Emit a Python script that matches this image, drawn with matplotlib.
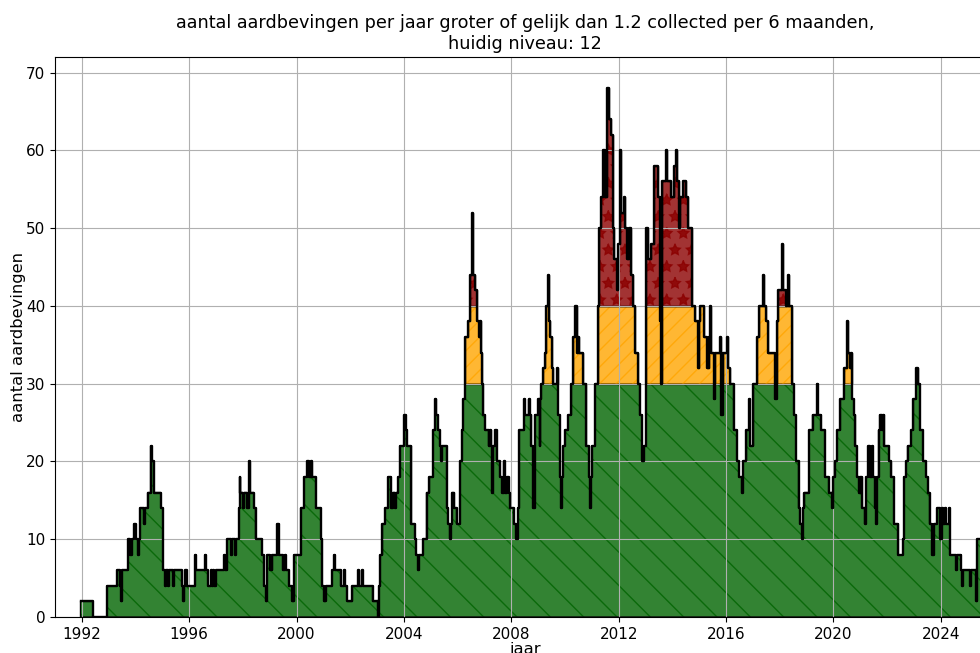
import matplotlib
matplotlib.use('Agg')
import matplotlib.pyplot as plt
import numpy as np

# aantal aardbevingen (per jaar, over 6 maanden)
jaar = [
    1991.95, 1992.42, 1992.93, 1993.30, 1993.42, 1993.46, 1993.50, 1993.71, 1993.80, 1993.85,
    1993.95, 1994.00, 1994.08, 1994.12, 1994.16, 1994.30, 1994.36, 1994.45, 1994.56, 1994.60,
    1994.70, 1994.95, 1995.02, 1995.10, 1995.13, 1995.20, 1995.24, 1995.40, 1995.43, 1995.72,
    1995.78, 1995.82, 1995.86, 1995.90, 1996.22, 1996.26, 1996.58, 1996.62, 1996.70, 1996.80,
    1996.84, 1996.90, 1996.94, 1997.00, 1997.30, 1997.34, 1997.42, 1997.55, 1997.59, 1997.70,
    1997.74, 1997.85, 1997.88, 1997.91, 1998.00, 1998.05, 1998.16, 1998.22, 1998.28, 1998.41,
    1998.47, 1998.72, 1998.78, 1998.86, 1998.90, 1999.02, 1999.10, 1999.28, 1999.34, 1999.48,
    1999.55, 1999.59, 1999.71, 1999.84, 1999.90, 2000.15, 2000.27, 2000.40, 2000.48, 2000.52,
    2000.59, 2000.71, 2000.90, 2000.96, 2001.02, 2001.08, 2001.33, 2001.40, 2001.44, 2001.64,
    2001.76, 2001.80, 2001.89, 2002.08, 2002.30, 2002.34, 2002.42, 2002.46, 2002.83, 2003.02,
    2003.07, 2003.12, 2003.20, 2003.30, 2003.40, 2003.53, 2003.59, 2003.66, 2003.70, 2003.78,
    2003.84, 2004.02, 2004.07, 2004.12, 2004.28, 2004.40, 2004.46, 2004.52, 2004.56, 2004.71,
    2004.84, 2004.95, 2005.09, 2005.15, 2005.21, 2005.28, 2005.34, 2005.38, 2005.42, 2005.59,
    2005.65, 2005.70, 2005.74, 2005.78, 2005.88, 2005.96, 2006.09, 2006.15, 2006.21, 2006.28,
    2006.40, 2006.46, 2006.52, 2006.56, 2006.59, 2006.65, 2006.71, 2006.78, 2006.82, 2006.86,
    2006.90, 2006.96, 2007.03, 2007.15, 2007.22, 2007.26, 2007.28, 2007.33, 2007.40, 2007.45,
    2007.59, 2007.65, 2007.71, 2007.76, 2007.84, 2007.90, 2007.96, 2008.09, 2008.19, 2008.24,
    2008.30, 2008.48, 2008.52, 2008.64, 2008.68, 2008.75, 2008.81, 2008.87, 2008.99, 2009.06,
    2009.08, 2009.12, 2009.18, 2009.25, 2009.31, 2009.35, 2009.39, 2009.45, 2009.50, 2009.56,
    2009.70, 2009.75, 2009.81, 2009.84, 2009.87, 2009.93, 2009.99, 2010.12, 2010.24, 2010.31,
    2010.39, 2010.43, 2010.47, 2010.52, 2010.68, 2010.80, 2010.90, 2010.93, 2010.96, 2010.99,
    2011.12, 2011.22, 2011.27, 2011.34, 2011.40, 2011.50, 2011.58, 2011.64, 2011.72, 2011.78,
    2011.84, 2011.92, 2011.98, 2012.06, 2012.10, 2012.18, 2012.24, 2012.30, 2012.38, 2012.46,
    2012.54, 2012.62, 2012.72, 2012.78, 2012.88, 2012.95, 2013.02, 2013.10, 2013.20, 2013.30,
    2013.46, 2013.52, 2013.58, 2013.62, 2013.76, 2013.80, 2013.96, 2014.06, 2014.12, 2014.16,
    2014.26, 2014.30, 2014.40, 2014.50, 2014.58, 2014.74, 2014.84, 2014.96, 2015.00, 2015.04,
    2015.16, 2015.29, 2015.35, 2015.40, 2015.44, 2015.54, 2015.60, 2015.76, 2015.82, 2015.88,
    2016.02, 2016.08, 2016.16, 2016.28, 2016.41, 2016.48, 2016.58, 2016.62, 2016.76, 2016.86,
    2016.90, 2017.02, 2017.16, 2017.22, 2017.36, 2017.40, 2017.50, 2017.56, 2017.82, 2017.88,
    2017.95, 2018.08, 2018.12, 2018.22, 2018.32, 2018.36, 2018.44, 2018.52, 2018.60, 2018.70,
    2018.76, 2018.82, 2018.86, 2018.92, 2019.10, 2019.22, 2019.38, 2019.42, 2019.55, 2019.68,
    2019.82, 2019.94, 2020.00, 2020.06, 2020.14, 2020.26, 2020.38, 2020.50, 2020.54, 2020.60,
    2020.64, 2020.70, 2020.76, 2020.82, 2020.88, 2020.94, 2020.98, 2021.08, 2021.16, 2021.22,
    2021.30, 2021.36, 2021.44, 2021.47, 2021.54, 2021.58, 2021.62, 2021.68, 2021.72, 2021.80,
    2021.86, 2021.90, 2022.06, 2022.16, 2022.26, 2022.42, 2022.58, 2022.62, 2022.70, 2022.76,
    2022.88, 2022.98, 2023.08, 2023.14, 2023.22, 2023.34, 2023.44, 2023.52, 2023.58, 2023.68,
    2023.74, 2023.86, 2023.98, 2024.04, 2024.10, 2024.14, 2024.20, 2024.30, 2024.34, 2024.56,
    2024.60, 2024.76, 2024.79, 2024.82, 2025.08, 2025.11, 2025.32, 2025.36, 2025.50,
]
aantal = [
    2, 0, 4, 6, 4, 2, 6, 10, 8, 10,
    12, 10, 8, 10, 14, 12, 14, 16, 22, 20,
    16, 14, 6, 4, 6, 4, 6, 4, 6, 4,
    2, 4, 6, 4, 8, 6, 8, 6, 4, 6,
    4, 6, 4, 6, 8, 6, 10, 8, 10, 8,
    10, 14, 18, 16, 14, 16, 14, 20, 16, 14,
    10, 8, 4, 2, 8, 6, 8, 12, 8, 6,
    8, 6, 4, 2, 8, 14, 18, 20, 18, 20,
    18, 14, 10, 4, 2, 4, 6, 8, 6, 4,
    6, 4, 2, 4, 6, 4, 6, 4, 2, 0,
    4, 8, 12, 14, 18, 14, 16, 14, 16, 18,
    22, 26, 24, 22, 12, 10, 8, 6, 8, 10,
    16, 18, 24, 28, 26, 24, 22, 20, 22, 14,
    12, 10, 12, 16, 14, 12, 20, 24, 28, 36,
    38, 44, 52, 48, 44, 42, 38, 36, 38, 34,
    30, 26, 24, 22, 24, 22, 16, 22, 24, 20,
    18, 16, 20, 16, 18, 16, 14, 12, 10, 14,
    24, 28, 26, 28, 26, 22, 14, 26, 28, 22,
    28, 30, 32, 34, 40, 44, 38, 36, 32, 30,
    32, 26, 18, 14, 18, 22, 24, 26, 30, 36,
    40, 34, 36, 34, 30, 22, 18, 14, 18, 22,
    30, 40, 50, 54, 60, 54, 68, 64, 62, 50,
    46, 42, 48, 60, 52, 54, 50, 46, 50, 44,
    40, 34, 30, 26, 20, 22, 50, 46, 48, 58,
    54, 38, 30, 56, 60, 56, 54, 58, 60, 56,
    50, 54, 56, 54, 50, 40, 38, 32, 38, 40,
    36, 32, 36, 40, 34, 28, 34, 36, 26, 34,
    36, 32, 30, 24, 20, 18, 16, 20, 24, 28,
    22, 30, 36, 40, 44, 40, 38, 34, 28, 38,
    42, 48, 42, 40, 44, 40, 30, 26, 20, 14,
    12, 10, 14, 16, 24, 26, 30, 26, 24, 18,
    16, 14, 18, 20, 24, 28, 32, 38, 34, 32,
    34, 28, 26, 22, 18, 16, 18, 14, 12, 18,
    22, 18, 22, 18, 14, 12, 18, 24, 26, 24,
    26, 22, 20, 18, 12, 8, 10, 18, 20, 22,
    24, 28, 32, 30, 24, 20, 18, 16, 12, 8,
    12, 14, 10, 14, 12, 14, 12, 14, 8, 6,
    8, 6, 4, 6, 4, 6, 2, 10, 12,
]
eind_jaar = 2025.62
huidig = 12

# trap-vorm uitschrijven
x = np.array(jaar + [eind_jaar])
y = np.array(aantal + [aantal[-1]], dtype=float)
xx = np.repeat(x, 2)[1:]
yy = np.repeat(y, 2)[:-1]

fig = plt.figure(figsize=(9.8, 6.53), dpi=100)
ax = fig.add_axes([55 / 980, 36 / 653, 939.5 / 980, 560 / 653])

groen = np.minimum(yy, 30)
oranje = np.clip(yy, 30, 40)

ax.fill_between(xx, 0, groen, color='darkgreen', alpha=0.8, hatch='\\', linewidth=0)
ax.fill_between(xx, 0, groen, facecolor='none', edgecolor='black', linewidth=1)

ax.fill_between(xx, 30, oranje, where=yy > 30, color='orange', alpha=0.8, hatch='//', linewidth=0)
ax.fill_between(xx, 30, oranje, where=yy > 30, facecolor='none', edgecolor='black', linewidth=1)

ax.fill_between(xx, 40, yy, where=yy > 40, color='darkred', alpha=0.8, hatch='*', linewidth=0)
ax.fill_between(xx, 40, yy, where=yy > 40, facecolor='none', edgecolor='black', linewidth=1)

ax.plot(xx, yy, color='black', linewidth=1.7)

ax.set_xlim(1991, 2026)
ax.set_ylim(0, 72)
ax.set_xticks(range(1992, 2025, 4))
ax.set_yticks(range(0, 71, 10))
ax.tick_params(labelsize=11)
ax.grid(True)

ax.set_title('aantal aardbevingen per jaar groter of gelijk dan 1.2 collected per 6 maanden,\n'
             'huidig niveau: ' + str(huidig), fontsize=12.7)
ax.set_xlabel('jaar', fontsize=11.8, labelpad=0)
ax.set_ylabel('aantal aardbevingen', fontsize=11.8, labelpad=0)

fig.savefig('out.png', dpi=100)
